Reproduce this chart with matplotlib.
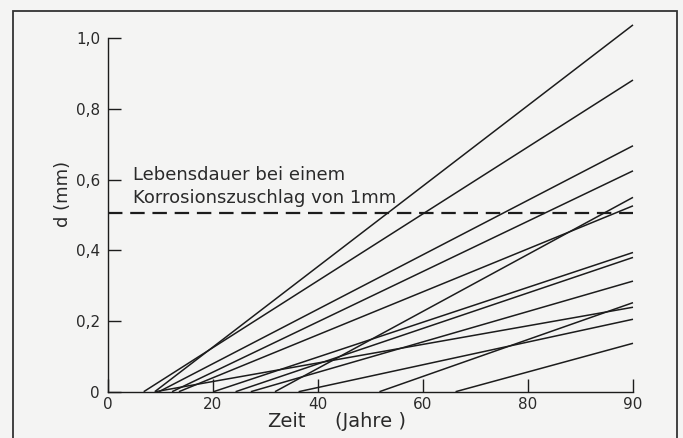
import matplotlib.pyplot as plt
from matplotlib.patches import Rectangle

# axis positions of the x ticks; the last tick is printed "90" in the original
XTICK_POS = [0, 20, 40, 60, 80, 100]
XTICK_LABELS = ["0", "20", "40", "60", "80", "90"]
YTICK_POS = [0.0, 0.2, 0.4, 0.6, 0.8, 1.0]
YTICK_LABELS = ["0", "0,2", "0,4", "0,6", "0,8", "1,0"]

# each corrosion line: start (d = 0) on the time axis, depth reached at the right end
START_X = [8.9, 6.8, 9.7, 12.2, 31.8, 13.5, 20.1, 24.3, 27.2, 51.7, 9.0, 36.3, 66.2]
END_Y = [1.038, 0.882, 0.696, 0.625, 0.550, 0.526, 0.394, 0.380, 0.313, 0.252, 0.239, 0.205, 0.137]
X_END = 100

LIMIT_D = 0.505  # dashed life-time limit

BG = "#f4f4f3"
INK = "#1c1c1c"
TXT = "#2a2a2a"

fig = plt.figure(figsize=(6.83, 4.38), dpi=100, facecolor=BG)
ax = fig.add_axes([108 / 683, 46.3 / 438, 525 / 683, 367.5 / 438])
ax.set_facecolor(BG)

for x0, y1 in zip(START_X, END_Y):
    ax.plot([x0, X_END], [0, y1], color=INK, lw=1.1, solid_capstyle="butt", clip_on=False)

ax.plot([0, X_END], [LIMIT_D, LIMIT_D], color=INK, lw=1.6, dashes=(6.5, 3.5))

ax.set_xlim(0, 100)
ax.set_ylim(0, 1.04)
for side in ("top", "right"):
    ax.spines[side].set_visible(False)
ax.spines["left"].set_bounds(0, 1.0)
ax.spines["bottom"].set_bounds(0, 100)
for side in ("left", "bottom"):
    ax.spines[side].set_color(INK)
    ax.spines[side].set_linewidth(1.0)

ax.set_xticks(XTICK_POS)
ax.set_xticklabels(XTICK_LABELS)
ax.set_yticks(YTICK_POS)
ax.set_yticklabels(YTICK_LABELS)
ax.tick_params(direction="in", length=9.5, width=1.0, color=INK, labelsize=11, labelcolor=TXT)
ax.tick_params(axis="y", pad=5.8)
ax.tick_params(axis="x", pad=4.0)

ax.text(-0.0857, 0.538, "d (mm)", transform=ax.transAxes, rotation=90,
        ha="center", va="center", fontsize=13, color=TXT)
ax.text(0.377, -0.082, "Zeit", transform=ax.transAxes,
        ha="right", va="center", fontsize=14, color=TXT)
ax.text(0.432, -0.082, "(Jahre )", transform=ax.transAxes,
        ha="left", va="center", fontsize=14, color=TXT)

ax.text(4.76, 0.600, "Lebensdauer bei einem", ha="left", va="baseline", fontsize=13, color=TXT)
ax.text(4.76, 0.535, "Korrosionszuschlag von 1mm", ha="left", va="baseline", fontsize=13, color=TXT)

frame = Rectangle((13 / 683, -0.02), 664 / 683, 1.02 - 11 / 438, transform=fig.transFigure,
                  fill=False, edgecolor="#333333", lw=1.3)
fig.patches.append(frame)

fig.savefig("out.png", dpi=100, facecolor=BG)
